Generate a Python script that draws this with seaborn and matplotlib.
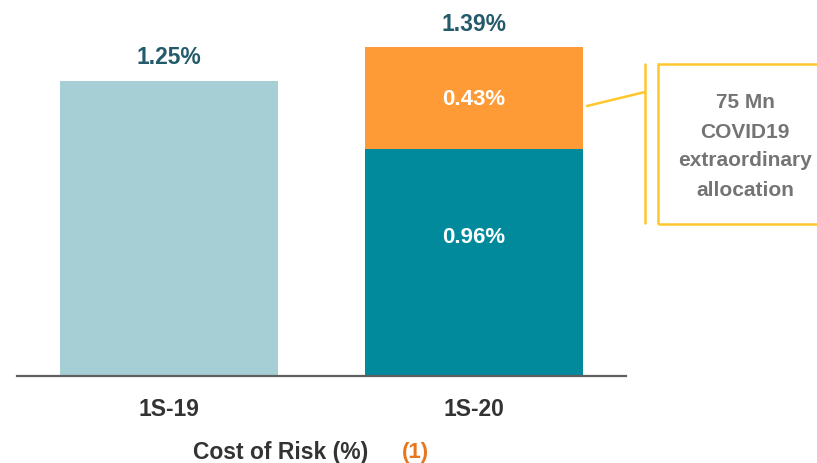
import matplotlib
matplotlib.use("Agg")
import matplotlib.pyplot as plt
import seaborn as sns
import pandas as pd
from matplotlib.patches import Rectangle
from matplotlib.lines import Line2D

# Cost of risk by half-year (%)
periods = ["1S-19", "1S-20"]
base_values = [1.25, 0.96]          # ordinary cost of risk
covid_values = [0.00, 0.43]         # COVID19 extraordinary allocation
total_values = [1.25, 1.39]
total_labels = ["1.25%", "1.39%"]
segment_labels = ["0.96%", "0.43%"]
note_lines = ["75 Mn", "COVID19", "extraordinary", "allocation"]
x_title = "Cost of Risk (%)"
x_title_note = "(1)"

LIGHT = "#A5CFD5"
TEAL = "#008A9C"
ORANGE = "#FF9B36"
VALUE_DARK = "#245B6B"
YELLOW = "#FFC72C"
GREY_TXT = "#747474"
AXIS_GREY = "#5F5F5F"

sns.set_theme(style="white")
plt.rcParams["font.family"] = ["Liberation Sans", "DejaVu Sans"]

fig = plt.figure(figsize=(8.17, 4.64), dpi=100)
ax = fig.add_axes([17 / 817, (464 - 377) / 464, (626 - 17) / 817, 377 / 464])

df_total = pd.DataFrame({"period": periods, "value": total_values})
df_base = pd.DataFrame({"period": periods, "value": base_values})

# Stacked look: full totals first, then the ordinary part on top of them
sns.barplot(data=df_total, x="period", y="value", hue="period",
            palette=[LIGHT, ORANGE], width=0.715, legend=False,
            saturation=1, ax=ax, linewidth=0)
sns.barplot(data=df_base, x="period", y="value", hue="period",
            palette=[LIGHT, TEAL], width=0.715, legend=False,
            saturation=1, ax=ax, linewidth=0)

ax.set_xlim(-0.5, 1.5)
ax.set_ylim(0, 377 / 236.4)

for s in ["top", "right", "left"]:
    ax.spines[s].set_visible(False)
ax.spines["bottom"].set_color(AXIS_GREY)
ax.spines["bottom"].set_linewidth(1.6)
ax.set_yticks([])
ax.set_ylabel("")
ax.set_xlabel("")
ax.tick_params(axis="x", length=0, pad=15, labelsize=16.5, labelcolor="#333333")
for lab in ax.get_xticklabels():
    lab.set_fontweight("bold")

# Totals above the bars
for i, (v, lab) in enumerate(zip(total_values, total_labels)):
    ax.annotate(lab, (i, v), xytext=(0, 17), textcoords="offset points",
                ha="center", va="center", fontsize=16.5, fontweight="bold",
                color=VALUE_DARK)

# Segment labels inside the 1S-20 bar
ax.text(1, base_values[1] * 0.613, segment_labels[0], ha="center", va="center",
        fontsize=16, fontweight="bold", color="white")
ax.text(1, base_values[1] + covid_values[1] / 2, segment_labels[1],
        ha="center", va="center", fontsize=16, fontweight="bold", color="white")

# Callout box with leader line
fig.add_artist(Line2D([587 / 817, 645 / 817], [1 - 107 / 464, 1 - 93 / 464],
                      color=YELLOW, lw=1.8))
fig.add_artist(Line2D([645 / 817, 645 / 817], [1 - 65 / 464, 1 - 224 / 464],
                      color=YELLOW, lw=1.8))
fig.add_artist(Rectangle((658 / 817, 1 - 225 / 464), 175 / 817, 160 / 464,
                         transform=fig.transFigure, fill=False,
                         edgecolor=YELLOW, lw=1.8, clip_on=False))
for k, line in enumerate(note_lines):
    y = [103, 133, 161, 190][k]
    fig.text(745 / 817, 1 - y / 464, line, ha="center", va="center",
             fontsize=15, fontweight="bold", color=GREY_TXT)

# Axis title with footnote marker
fig.text(281 / 817, 1 - 453 / 464, x_title, ha="center", va="center",
         fontsize=16.5, fontweight="bold", color="#333333")
fig.text(415 / 817, 1 - 453 / 464, x_title_note, ha="center", va="center",
         fontsize=16, fontweight="bold", color="#E8761C")

fig.savefig("out.png", dpi=100)
